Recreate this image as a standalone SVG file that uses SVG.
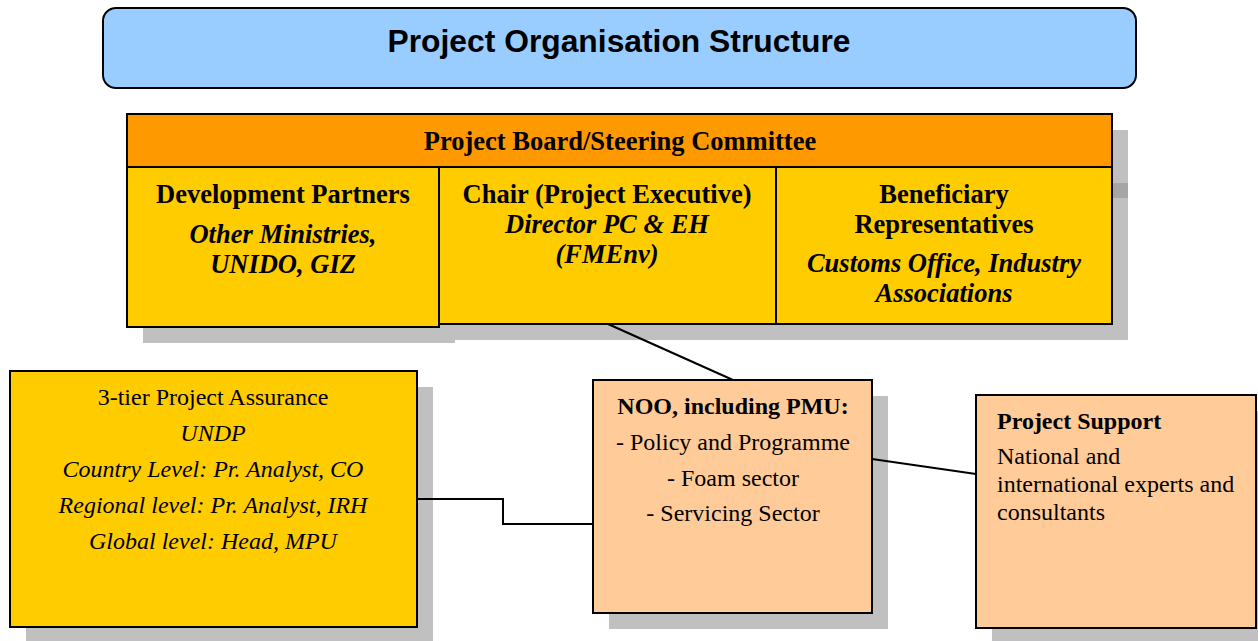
<svg xmlns="http://www.w3.org/2000/svg" width="1258" height="641" viewBox="0 0 1258 641">
  <style>
    .shadow { fill: #c0c0c0; }
    .box { stroke: #000; stroke-width: 2; }
    .gold { fill: #ffcc00; }
    .peach { fill: #ffcc99; }
    .orange { fill: #ff9900; }
    .serif { font-family: "Liberation Serif", "Times New Roman", serif; fill: #000; }
    .big { font-size: 26.5px; }
    .small { font-size: 24px; }
    .b { font-weight: bold; }
    .i { font-style: italic; }
    .c { text-anchor: middle; }
    .link { fill: none; stroke: #000; stroke-width: 2; }
  </style>

  <rect width="1258" height="641" fill="#fff"/>

  <!-- heading banner -->
  <g id="title">
    <rect x="103" y="8" width="1033" height="80" rx="13" ry="13" fill="#99ccff" stroke="#000" stroke-width="2"/>
    <text x="619" y="52" text-anchor="middle" font-family="Liberation Sans, Arial, sans-serif" font-weight="bold" font-size="31.8">Project Organisation Structure</text>
  </g>

  <!-- drop shadows -->
  <g id="shadows">
    <rect class="shadow" x="143" y="130" width="985" height="53"/>
    <rect class="shadow" x="143" y="183" width="312" height="160"/>
    <rect class="shadow" x="455" y="183" width="337" height="157"/>
    <rect class="shadow" x="792" y="183" width="336" height="157"/>
    <rect x="1112" y="183" width="16" height="15" fill="#a6a6a6"/>
    <rect class="shadow" x="26" y="387" width="407" height="254"/>
    <rect class="shadow" x="609" y="396" width="279" height="233"/>
    <rect class="shadow" x="992" y="411" width="266" height="230"/>
  </g>

  <!-- connectors -->
  <g id="connectors">
    <line class="link" x1="608" y1="324" x2="733" y2="380"/>
    <line class="link" x1="872" y1="459" x2="976" y2="474"/>
    <polyline class="link" points="417,499 503,499 503,524 593,524"/>
  </g>

  <!-- board header -->
  <g id="board">
    <rect class="box orange" x="127" y="114" width="985" height="53"/>
    <text class="serif big b c" x="620" y="150">Project Board/Steering Committee</text>
  </g>

  <g id="dev-partners">
    <rect class="box gold" x="127" y="167" width="312" height="160"/>
    <text class="serif big b c" x="283" y="203">Development Partners</text>
    <text class="serif big b i c" x="283" y="243">Other Ministries,</text>
    <text class="serif big b i c" x="283" y="273">UNIDO, GIZ</text>
  </g>

  <g id="chair">
    <rect class="box gold" x="439" y="167" width="337" height="157"/>
    <text class="serif big b c" x="607" y="203">Chair (Project Executive)</text>
    <text class="serif big b i c" x="607" y="233">Director PC &amp; EH</text>
    <text class="serif big b i c" x="607" y="263">(FMEnv)</text>
  </g>

  <g id="beneficiary">
    <rect class="box gold" x="776" y="167" width="336" height="157"/>
    <text class="serif big b c" x="944" y="203">Beneficiary</text>
    <text class="serif big b c" x="944" y="233">Representatives</text>
    <text class="serif big b i c" x="944" y="272">Customs Office, Industry</text>
    <text class="serif big b i c" x="944" y="302">Associations</text>
  </g>

  <g id="assurance">
    <rect class="box gold" x="10" y="371" width="407" height="256"/>
    <text class="serif small c" x="213" y="405">3-tier Project Assurance</text>
    <text class="serif small i c" x="213" y="441">UNDP</text>
    <text class="serif small i c" x="213" y="477">Country Level: Pr. Analyst, CO</text>
    <text class="serif small i c" x="213" y="513">Regional level: Pr. Analyst, IRH</text>
    <text class="serif small i c" x="213" y="549">Global level: Head, MPU</text>
  </g>

  <g id="noo">
    <rect class="box peach" x="593" y="380" width="279" height="233"/>
    <text class="serif small b c" x="733" y="414">NOO, including PMU:</text>
    <text class="serif small c" x="733" y="450">- Policy and Programme</text>
    <text class="serif small c" x="733" y="486">- Foam sector</text>
    <text class="serif small c" x="733" y="521">- Servicing Sector</text>
  </g>

  <g id="support">
    <rect class="box peach" x="976" y="395" width="280" height="233"/>
    <text class="serif small b" x="997" y="429">Project Support</text>
    <text class="serif small" x="997" y="464">National and</text>
    <text class="serif small" x="997" y="492">international experts and</text>
    <text class="serif small" x="997" y="520">consultants</text>
  </g>
</svg>
